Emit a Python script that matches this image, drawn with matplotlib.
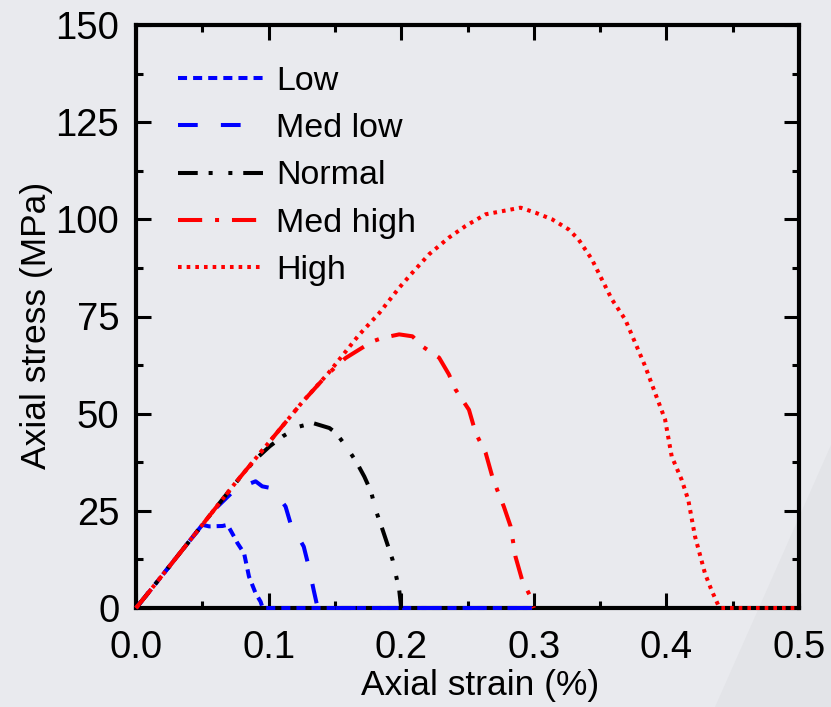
import matplotlib
matplotlib.use("Agg")
import matplotlib.pyplot as plt
from matplotlib.ticker import MultipleLocator
from matplotlib.patches import Polygon

plt.rcParams['font.family'] = ['Liberation Sans', 'DejaVu Sans']

# stress-strain curves (strain in %, stress in MPa)
low_strain = [0, 0.01, 0.02, 0.03, 0.04, 0.0501, 0.0551, 0.0652, 0.069, 0.0739, 0.0765,
              0.0815, 0.0852, 0.0902, 0.094, 0.0955, 0.3]
low_stress = [0, 4.2, 8.5, 12.8, 17.1, 21.4, 21.0, 21.1, 21.4, 18.4, 16.7,
              14.1, 8.1, 3.8, 1.6, 0, 0]

medlow_strain = [0, 0.01, 0.02, 0.03, 0.04, 0.05, 0.06, 0.0727, 0.08, 0.0902, 0.0952,
                 0.1027, 0.1128, 0.1165, 0.1265, 0.1303, 0.134, 0.137, 0.3]
medlow_stress = [0, 4.2, 8.5, 12.8, 17.1, 21.4, 25.6, 29.8, 31.2, 32.6, 31.3,
                 30.8, 26.1, 21.8, 15.8, 10.6, 4.6, 0, 0]

normal_strain = [0, 0.01, 0.02, 0.03, 0.04, 0.05, 0.06, 0.07, 0.08, 0.09, 0.1008,
                 0.1108, 0.1233, 0.1333, 0.1459, 0.1509, 0.1584, 0.166, 0.1722, 0.1772,
                 0.181, 0.186, 0.1935, 0.1985, 0.2]
normal_stress = [0, 4.2, 8.5, 12.8, 17.1, 21.4, 25.7, 30.0, 34.2, 38.2, 41.6,
                 44.2, 46.7, 47.6, 46.3, 45.0, 41.6, 37.7, 33.8, 30.0,
                 25.0, 20.1, 12.4, 4.6, 0]

medhigh_strain = [0, 0.01, 0.02, 0.03, 0.04, 0.05, 0.075, 0.1, 0.125, 0.145, 0.158,
                  0.1684, 0.1784, 0.186, 0.1985, 0.2085, 0.216, 0.2286, 0.236, 0.241,
                  0.2511, 0.2562, 0.2637, 0.2687, 0.2724, 0.2774, 0.2825, 0.2862,
                  0.2912, 0.2975, 0.3]
medhigh_stress = [0, 4.2, 8.5, 12.8, 17.1, 21.4, 32.2, 42.5, 52.8, 60.3, 64.3,
                  66.5, 68.6, 69.5, 70.4, 69.9, 67.3, 64.4, 60.1, 56.2,
                  51.0, 45.0, 39.9, 33.8, 30.4, 26.1, 21.0, 13.2,
                  7.2, 2.9, 0]

high_strain = [0, 0.01, 0.02, 0.03, 0.04, 0.05, 0.075, 0.1, 0.125, 0.145, 0.157,
               0.168, 0.1835, 0.1985, 0.2085, 0.221, 0.236, 0.2486, 0.2637, 0.2762,
               0.29, 0.3013, 0.3138, 0.3263, 0.3338, 0.3438, 0.3514, 0.3589, 0.369,
               0.3765, 0.384, 0.3915, 0.399, 0.404, 0.4115, 0.4165, 0.4216, 0.4291,
               0.434, 0.439, 0.441, 0.5]
high_stress = [0, 4.2, 8.5, 12.8, 17.1, 21.4, 32.2, 42.5, 52.8, 60.4, 65.5,
               70.2, 75.9, 82.4, 86.3, 91.0, 95.3, 98.3, 101.3, 102.1,
               103.0, 101.7, 100.0, 97.4, 94.8, 89.7, 84.5, 79.4, 74.2,
               68.2, 62.2, 55.3, 48.5, 39.0, 33.0, 27.8, 18.4, 8.9,
               4.6, 0.8, 0, 0]

bg = '#e9eaee'
fig = plt.figure(figsize=(8.31, 7.07), dpi=100, facecolor=bg)
# faint slide decoration in the lower right corner
deco = Polygon([[0.86, 0], [1, 0], [1, 0.37]], closed=True, transform=fig.transFigure,
               facecolor='#e3e4e8', edgecolor='none', zorder=-10)
fig.add_artist(deco)
ax = fig.add_axes([136 / 831, 1 - 608 / 707, 663 / 831, 583 / 707])
ax.set_facecolor('none')

lw = 2.9
kw = dict(lw=lw, zorder=3, clip_on=False)
ax.plot(low_strain, low_stress, color='#0000ff', dashes=(2.25, 1.5), label='Low', **kw)
ax.plot(medlow_strain, medlow_stress, color='#0000ff', dashes=(4.9, 5.75), label='Med low', **kw)
ax.plot(normal_strain, normal_stress, color='black',
        dashes=(4.9, 2.7, 1, 3.9, 1, 2.7), label='Normal', **kw)
ax.plot(medhigh_strain, medhigh_stress, color='#ff0000',
        dashes=(6, 3.2, 1, 3.2), label='Med high', **kw)
ax.plot(high_strain, high_stress, color='#ff0000', dashes=(0.9, 1.25), label='High', **kw)

ax.set_xlim(0, 0.5)
ax.set_ylim(0, 150)
ax.xaxis.set_major_locator(MultipleLocator(0.1))
ax.xaxis.set_minor_locator(MultipleLocator(0.05))
ax.yaxis.set_major_locator(MultipleLocator(25))
ax.yaxis.set_minor_locator(MultipleLocator(12.5))
ax.xaxis.set_major_formatter(plt.FormatStrFormatter('%.1f'))

ax.tick_params(which='both', direction='in', top=True, right=True, width=2.2)
ax.tick_params(which='major', length=10.5, labelsize=27.5)
ax.tick_params(which='minor', length=5)
ax.tick_params(axis='x', which='major', pad=16)
ax.tick_params(axis='y', which='major', pad=12)
for s in ax.spines.values():
    s.set_linewidth(3)

ax.set_xlabel('Axial strain (%)', fontsize=25.5, labelpad=2)
ax.xaxis.label.set_x(0.519)
ax.set_ylabel('Axial stress (MPa)', fontsize=25.5, labelpad=2)
ax.yaxis.label.set_y(0.485)

ax.legend(loc='upper left', bbox_to_anchor=(0.063, 0.93), frameon=False,
          fontsize=24.5, handlelength=2.5, handletextpad=0.38,
          labelspacing=0.48, borderpad=0, borderaxespad=0)

fig.savefig('out.png', dpi=100, facecolor=bg)
